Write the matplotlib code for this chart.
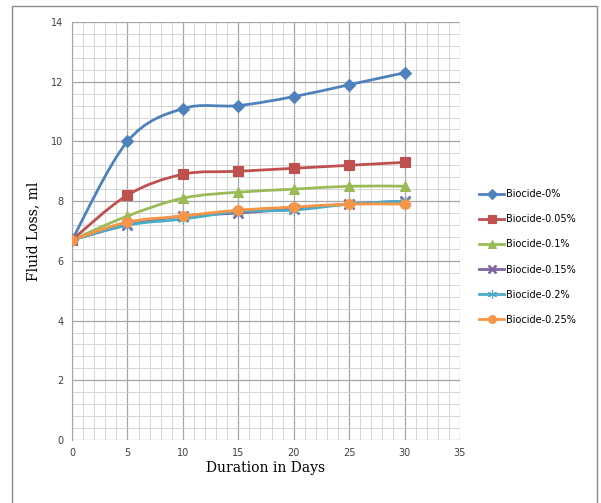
import numpy as np
import matplotlib
matplotlib.use("Agg")
import matplotlib.pyplot as plt
from matplotlib.path import Path
from matplotlib.patches import PathPatch, Rectangle
from matplotlib.lines import Line2D

# ── Data ──────────────────────────────────────────────────────────────────────
days = [0, 5, 10, 15, 20, 25, 30]
labels = ["Biocide-0%", "Biocide-0.05%", "Biocide-0.1%",
          "Biocide-0.15%", "Biocide-0.2%", "Biocide-0.25%"]
b0   = [6.7, 10.0, 11.1, 11.2, 11.5, 11.9, 12.3]
b005 = [6.7, 8.2, 8.9, 9.0, 9.1, 9.2, 9.3]
b01  = [6.7, 7.5, 8.1, 8.3, 8.4, 8.5, 8.5]
b015 = [6.7, 7.2, 7.5, 7.6, 7.75, 7.9, 8.0]
b02  = [6.7, 7.2, 7.4, 7.65, 7.7, 7.9, 8.0]
b025 = [6.7, 7.3, 7.5, 7.7, 7.8, 7.9, 7.9]
series = [b0, b005, b01, b015, b02, b025]

colors  = ["#4F81BD", "#C0504D", "#9BBB59", "#8064A2", "#4BACC6", "#F79646"]
markers = ["D", "s", "^", "x", (6, 2, 0), "o"]
msizes  = [6, 7.5, 7, 7, 8, 7]


def smooth_path(x, y, t=1 / 6):
    # Excel-like smoothed line: cubic Bezier through each point
    x = np.asarray(x, float); y = np.asarray(y, float)
    verts = [(x[0], y[0])]; codes = [Path.MOVETO]
    n = len(x)
    for i in range(n - 1):
        p0 = np.array([x[max(i - 1, 0)], y[max(i - 1, 0)]])
        p1 = np.array([x[i], y[i]])
        p2 = np.array([x[i + 1], y[i + 1]])
        p3 = np.array([x[min(i + 2, n - 1)], y[min(i + 2, n - 1)]])
        c1 = p1 + (p2 - p0) * t
        c2 = p2 - (p3 - p1) * t
        verts += [tuple(c1), tuple(c2), tuple(p2)]
        codes += [Path.CURVE4] * 3
    return Path(verts, codes)


fig = plt.figure(figsize=(6.01, 5.03), dpi=100)
fig.patches.append(Rectangle((12 / 601, -0.01), 585 / 601, 0.998, transform=fig.transFigure,
                             fill=False, edgecolor="#8C8C8C", lw=1.0))
ax = fig.add_axes([72 / 601, 1 - 440 / 503, 388 / 601, 418 / 503])

ax.set_xlim(0, 35)
ax.set_ylim(0, 14)
ax.set_xticks(np.arange(0, 36, 5))
ax.set_yticks(np.arange(0, 15, 2))
ax.set_xticks(np.arange(0, 36, 1), minor=True)
ax.set_yticks(np.arange(0, 14.01, 0.4), minor=True)
ax.grid(which="major", color="#A6A6A6", lw=0.9)
ax.grid(which="minor", color="#D0D0D0", lw=0.6)
ax.set_axisbelow(True)
for s in ["top", "right", "bottom"]:
    ax.spines[s].set_visible(False)
ax.spines["left"].set_color("#A6A6A6")
ax.tick_params(which="both", length=0, labelsize=7, colors="#404040", pad=6)

handles = []
for vals, lab, c, m, ms in zip(series, labels, colors, markers, msizes):
    ax.add_patch(PathPatch(smooth_path(days, vals), fill=False, edgecolor=c, lw=2, zorder=3))
    mw = 1.8 if m == "x" else 0.8
    ax.plot(days, vals, linestyle="none", marker=m, ms=ms, color=c,
            markeredgecolor=c, markeredgewidth=mw, zorder=4)
    handles.append(Line2D([], [], color=c, lw=2, marker=m, ms=ms * 0.8,
                          markeredgewidth=mw, label=lab))

ax.set_xlabel("Duration in Days", family="DejaVu Serif", fontsize=10, labelpad=2)
ax.set_ylabel("Fluid Loss, ml", family="DejaVu Serif", fontsize=10, labelpad=8)

fig.legend(handles=handles, loc="center left", bbox_to_anchor=(474 / 601, 1 - 257 / 503),
           frameon=False, fontsize=7, handlelength=2.6, handletextpad=0.2,
           labelspacing=1.55, borderpad=0)

plt.savefig("out.png", dpi=100)
